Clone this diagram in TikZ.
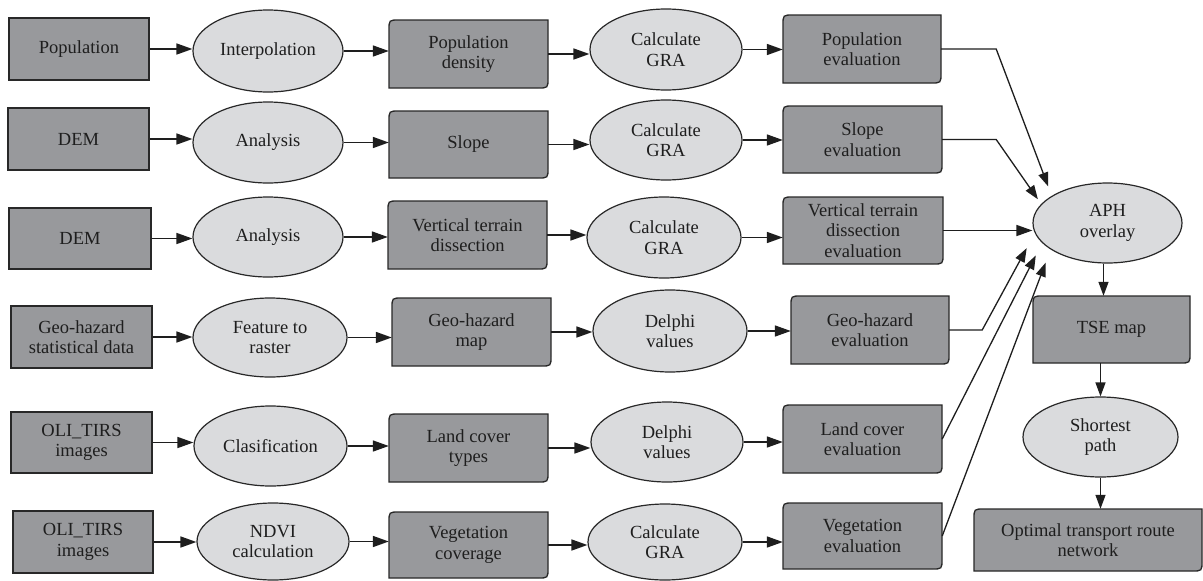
\documentclass[tikz,border=0pt]{standalone}
\usepackage{fontspec}
\setmainfont{Liberation Serif}
\usetikzlibrary{arrows.meta,shapes.geometric}
\definecolor{boxfill}{RGB}{152,153,156}
\definecolor{ellfill}{RGB}{218,219,221}
\definecolor{edge}{RGB}{40,40,40}
\definecolor{ink}{RGB}{30,30,30}
\tikzset{
  lbl/.style={inner sep=0pt, align=center, text=ink, font=\fontsize{18.5}{20.5}\selectfont},
  plainbox/.style={lbl, rectangle, draw=edge, fill=boxfill, line width=1.3pt},
  docshape/.style={draw=edge, fill=boxfill, line width=1.3pt},
  procell/.style={lbl, ellipse, draw=edge, fill=ellfill, line width=1.2pt},
  arr/.style={-{Triangle[length=16pt,width=11pt]}, line width=1.6pt, draw=ink, fill=ink},
  arrthin/.style={-{Triangle[length=14pt,width=10pt]}, line width=1.3pt, draw=ink},
}
% name, x1, y1, x2, y2, text
\newcommand\docnode[6]{%
  \draw[docshape] (#2,#5) -- (#2,#3+10) .. controls (#2,#3) .. (#2+10,#3) -- (#4,#3) -- (#4,#5-10) .. controls (#4,#5) .. (#4-10,#5) -- cycle;
  \node[lbl, minimum width={#4-#2}, minimum height={#5-#3}] (#1) at ({(#2+#4)/2},{(#3+#5)/2}) {#6};
}
\newcommand\plainnode[6]{%
  \node[plainbox, minimum width={#4-#2}, minimum height={#5-#3}] (#1) at ({(#2+#4)/2},{(#3+#5)/2}) {#6};
}
\newcommand\ellnode[6]{%
  \node[procell, minimum width={#4-#2}, minimum height={#5-#3}] (#1) at ({(#2+#4)/2},{(#3+#5)/2}) {#6};
}
\begin{document}
\begin{tikzpicture}[x=1pt,y=-1pt]
\useasboundingbox[fill=white] (0,0) rectangle (1203,581);
% column 1
\plainnode{r1}{9}{18}{149}{80}{Population}
\plainnode{r2}{8}{108}{149}{170}{DEM}
\plainnode{r3}{9}{208}{151}{269}{DEM}
\plainnode{r4}{11}{306}{152}{368}{Geo-hazard\\statistical data}
\plainnode{r5}{11}{412}{152}{473}{OLI\_TIRS\\images}
\plainnode{r6}{13}{511}{153}{573}{OLI\_TIRS\\images}
% column 2
\ellnode{e1}{193}{10}{343}{92}{Interpolation}
\ellnode{e2}{193}{102}{343}{183}{Analysis}
\ellnode{e3}{193}{197}{343}{277}{Analysis}
\ellnode{e4}{193}{298}{347}{377}{Feature to\\raster}
\ellnode{e5}{194}{406}{347}{486}{Clasification}
\ellnode{e6}{197}{503}{349}{580}{NDVI\\calculation}
% column 3
\docnode{d1}{389}{20}{548}{88}{Population\\density}
\docnode{d2}{389}{111}{548}{178}{Slope}
\docnode{d3}{388}{201}{547}{269}{Vertical terrain\\dissection}
\docnode{d4}{392}{298}{551}{366}{Geo-hazard\\map}
\docnode{d5}{389}{414}{548}{482}{Land cover\\types}
\docnode{d6}{389}{512}{548}{578}{Vegetation\\coverage}
% column 4
\ellnode{g1}{590}{9}{742}{90}{Calculate\\GRA}
\ellnode{g2}{590}{100}{742}{180}{Calculate\\GRA}
\ellnode{g3}{587}{197}{741}{278}{Calculate\\GRA}
\ellnode{g4}{593}{290}{747}{372}{Delphi\\values}
\ellnode{g5}{591}{402}{743}{482}{Delphi\\values}
\ellnode{g6}{588}{504}{742}{580}{Calculate\\GRA}
% column 5
\docnode{p1}{783}{15}{941}{83}{Population\\evaluation}
\docnode{p2}{783}{106}{942}{173}{Slope\\evaluation}
\docnode{p3}{783}{197}{943}{264}{Vertical terrain\\dissection\\evaluation}
\docnode{p4}{791}{296}{949}{364}{Geo-hazard\\evaluation}
\docnode{p5}{783}{405}{942}{473}{Land cover\\evaluation}
\docnode{p6}{783}{503}{942}{569}{Vegetation\\evaluation}
% right column
\ellnode{aph}{1033}{183}{1182}{263}{APH\\overlay}
\docnode{tse}{1033}{296}{1190}{363}{TSE map}
\ellnode{sp}{1023}{397}{1178}{477}{Shortest\\path}
\docnode{ort}{974}{509}{1202}{571}{Optimal transport route\\network}
% row arrows
\foreach \i in {1,...,6}{
  \draw[arr] (r\i.east) -- (r\i.east -| e\i.west);
  \draw[arr] (e\i.east) -- (e\i.east -| d\i.west);
  \draw[arr] (d\i.east) -- (d\i.east -| g\i.west);
  \draw[arr] (g\i.east) -- (g\i.east -| p\i.west);
}
% converging arrows
\draw[arrthin, shorten >=10pt] (p1.east) -- ++(55,0) -- (aph.154.6);
\draw[arrthin, shorten >=5.7pt] (p2.east) -- ++(54,0) -- (aph.164.4);
\draw[arr] (p3.east) -- (p3.east -| aph.west);
\draw[arrthin, shorten >=17pt] (p4.east) -- ++(33,0) -- (aph.188);
\draw[arrthin, shorten >=14pt] (p5.east) -- (aph.197.8);
\draw[arrthin, shorten >=14pt] (p6.east) -- (aph.205.9);
% right column arrows
\draw[arrthin] ([xshift=-4pt]aph.south) -- ([xshift=-4pt]aph.south |- tse.north);
\draw[arrthin] (sp.north |- tse.south) -- (sp.north);
\draw[arrthin] (sp.south) -- (sp.south |- ort.north);
\end{tikzpicture}
\end{document}
